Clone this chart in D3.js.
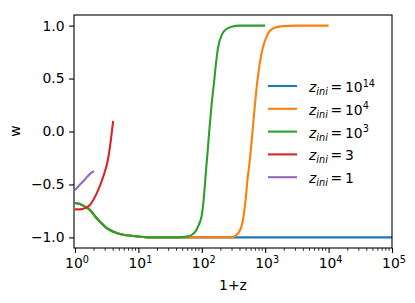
<!DOCTYPE html>
<html>
<head>
<meta charset="utf-8">
<script src="https://cdn.jsdelivr.net/npm/d3@7"></script>
<style>
  body { margin: 0; background: #fff; }
  text { font-family: "DejaVu Sans", sans-serif; fill: #000; }
</style>
</head>
<body>
<script>
// values: x is 1+z, y is w
var lateX = [1, 1.2, 1.44, 1.72, 2.07, 2.48, 3, 3.56, 4.27, 5.1, 6.5, 8.2, 12, 15, 20, 30];
var lateW = [-0.675, -0.685, -0.71, -0.74, -0.80, -0.852, -0.90, -0.93, -0.952, -0.968, -0.98, -0.987, -0.996, -1.0, -1.0, -1.0];

var blueX = lateX.concat([100, 1e3, 1e4, 1e5]);
var blueW = lateW.concat([-1, -1, -1, -1]);

var orangeX = lateX.concat([100, 250, 300, 340, 380, 415, 445, 470, 500, 522, 560, 597, 666, 750, 830, 913, 1100, 1342, 1900, 3000, 1e4]);
var orangeW = lateW.concat([-1, -1, -0.997, -0.985, -0.955, -0.91, -0.84, -0.74, -0.6, -0.47, -0.32, -0.16, 0.156, 0.47, 0.66, 0.785, 0.92, 0.975, 0.995, 1.0, 1.0]);

var greenX = lateX.concat([50, 60, 70, 80, 90, 100, 106, 112, 118, 125, 131, 140, 156, 168, 180, 210, 250, 295, 400, 1000]);
var greenW = lateW.concat([-0.997, -0.99, -0.975, -0.94, -0.88, -0.79, -0.67, -0.5, -0.33, -0.156, 0.0, 0.2, 0.467, 0.65, 0.788, 0.92, 0.97, 0.99, 1.0, 1.0]);

var redX = [1, 1.2, 1.35, 1.5, 1.72, 2.2, 2.79, 3.35, 3.7, 4];
var redW = [-0.735, -0.735, -0.73, -0.72, -0.694, -0.584, -0.427, -0.25, -0.07, 0.1];

var purpleX = [1, 1.2, 1.4, 1.6, 1.8, 2];
var purpleW = [-0.553, -0.50, -0.46, -0.42, -0.39, -0.375];

var seriesLabels = ["14", "4", "3", "", ""];
var seriesTail = ["10", "10", "10", "3", "1"];
var colors = ["#1f77b4", "#ff7f0e", "#2ca02c", "#d62728", "#9467bd"];

var xTicks = [1, 10, 100, 1e3, 1e4, 1e5];
var xTickExp = ["0", "1", "2", "3", "4", "5"];
var yTicks = [-1.0, -0.5, 0.0, 0.5, 1.0];

var svgWidth = 415;
var svgHeight = 303;
var margin = { top: 15, right: 23, bottom: 55, left: 74 };
var chartWidth = svgWidth - margin.left - margin.right;
var chartHeight = svgHeight - margin.top - margin.bottom;

var svg = d3.select("body")
    .append("svg")
    .attr("width", svgWidth)
    .attr("height", svgHeight);

var chartGroup = svg.append("g")
    .attr("transform", `translate(${margin.left},${margin.top})`);

var xScale = d3.scaleLog().domain([0.965, 1e5]).range([0, chartWidth]);
var yScale = d3.scaleLinear().domain([-1.1, 1.1]).range([chartHeight, 0]);

svg.append("defs").append("clipPath").attr("id", "plotClip")
    .append("rect").attr("width", chartWidth).attr("height", chartHeight);

var series = [
    { x: blueX, w: blueW },
    { x: orangeX, w: orangeW },
    { x: greenX, w: greenW },
    { x: redX, w: redW },
    { x: purpleX, w: purpleW }
];

var line = d3.line()
    .x(d => xScale(d[0]))
    .y(d => yScale(d[1]))
    .curve(d3.curveMonotoneX);

var linesGroup = chartGroup.append("g").attr("clip-path", "url(#plotClip)");
series.forEach((s, i) => {
    linesGroup.append("path")
        .datum(s.x.map((v, j) => [v, s.w[j]]))
        .attr("d", line)
        .attr("fill", "none")
        .attr("stroke", colors[i])
        .attr("stroke-width", 2.1);
});

// minor ticks on the log axis
var minorTicks = [];
for (var d = 0; d < 5; d++) {
    for (var k = 2; k < 10; k++) minorTicks.push(k * Math.pow(10, d));
}
chartGroup.selectAll(".minor")
    .data(minorTicks)
    .enter()
    .append("line")
    .attr("x1", d => xScale(d)).attr("x2", d => xScale(d))
    .attr("y1", chartHeight).attr("y2", chartHeight + 2.8)
    .attr("stroke", "#000").attr("stroke-width", 0.8);

// x axis, labels written as 10^n
var bottomAxis = d3.axisBottom(xScale).tickValues(xTicks).tickSize(4.9).tickPadding(4.5).tickFormat("");
var xAxisGroup = chartGroup.append("g")
    .attr("transform", `translate(0, ${chartHeight})`)
    .call(bottomAxis);
xAxisGroup.select(".domain").remove();
xAxisGroup.selectAll(".tick line").attr("stroke-width", 1.1);
xTicks.forEach((t, i) => {
    var lab = chartGroup.append("text")
        .attr("x", xScale(t) + 2)
        .attr("y", chartHeight + 20)
        .attr("text-anchor", "middle")
        .attr("font-size", 13.9);
    lab.append("tspan").text("10");
    lab.append("tspan").attr("font-size", 9.7).attr("dy", -5.5).text(xTickExp[i]);
});

var leftAxis = d3.axisLeft(yScale).tickValues(yTicks).tickSize(4.9).tickPadding(4.5)
    .tickFormat(d => d3.format(".1f")(d).replace("-", "\u2212"));
var yAxisGroup = chartGroup.append("g").call(leftAxis);
yAxisGroup.select(".domain").remove();
yAxisGroup.selectAll(".tick line").attr("stroke-width", 1.1);
yAxisGroup.selectAll("text").attr("font-size", 13.9).attr("font-family", "DejaVu Sans");

// frame
chartGroup.append("rect")
    .attr("width", chartWidth).attr("height", chartHeight)
    .attr("fill", "none").attr("stroke", "#000").attr("stroke-width", 1.1);

// axis titles
svg.append("text")
    .attr("x", margin.left + chartWidth / 2)
    .attr("y", 290)
    .attr("text-anchor", "middle")
    .attr("font-size", 13.9)
    .text("1+z");
svg.append("text")
    .attr("transform", "translate(20, 131) rotate(-90)")
    .attr("text-anchor", "middle")
    .attr("font-size", 13.9)
    .text("w");

// legend
var legend = svg.append("g").attr("transform", "translate(268, 86)");
colors.forEach((c, i) => {
    var row = legend.append("g").attr("transform", `translate(0, ${i * 22.8})`);
    row.append("line").attr("x1", 0).attr("x2", 29).attr("stroke", c).attr("stroke-width", 2.1);
    var t = row.append("text").attr("x", 41).attr("y", 6).attr("font-size", 13.9);
    t.append("tspan").attr("font-style", "italic").text("z");
    t.append("tspan").attr("font-style", "italic").attr("font-size", 9.7).attr("dy", 3).text("ini");
    t.append("tspan").attr("dy", -3).text("\u2009=\u2009" + seriesTail[i]);
    if (seriesLabels[i]) {
        t.append("tspan").attr("font-size", 9.7).attr("dy", -5.5).text(seriesLabels[i]);
    }
});
</script>
</body>
</html>
